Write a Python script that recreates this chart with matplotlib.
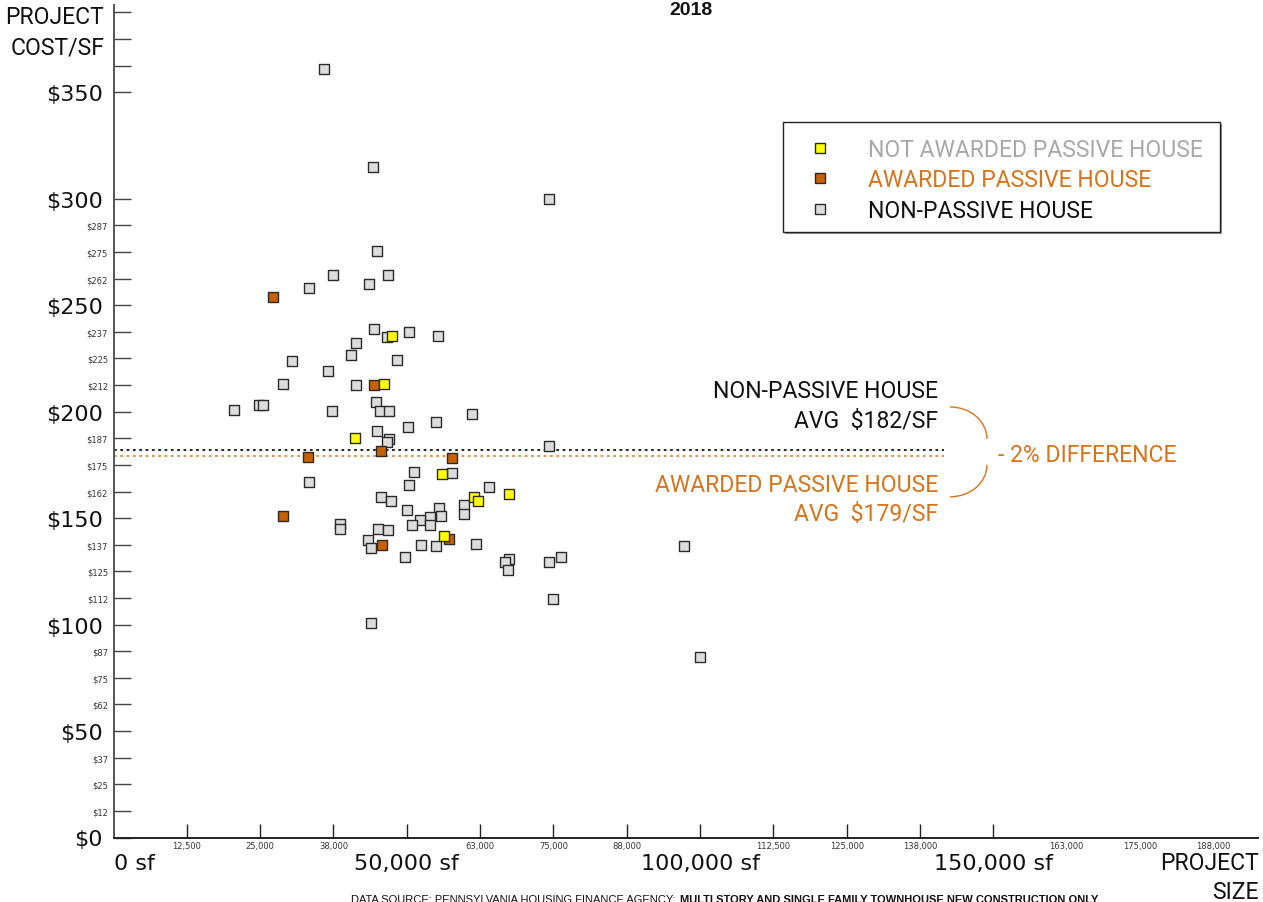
import matplotlib
matplotlib.use('Agg')
import matplotlib.pyplot as plt
from matplotlib import font_manager as fm
from matplotlib.patches import Arc, Rectangle
from matplotlib.lines import Line2D

# ---------------- data ----------------
not_awarded_size = [47430, 46170, 41230, 55960, 61420, 62060, 67380, 56390]
not_awarded_cost = [235.6, 213.1, 187.8, 170.7, 159.7, 158.0, 161.3, 141.5]

awarded_size = [27140, 44420, 45610, 33210, 57770, 28850, 45830, 57150]
awarded_cost = [254.0, 212.3, 181.6, 178.9, 178.2, 151.1, 137.3, 140.3]

non_passive_size = [35890, 44300, 74200, 44930, 37430, 46850, 33380, 43620, 44470, 46630,
                    50380, 55330, 41400, 40490, 48390, 30490, 36620, 28850, 41350, 44760,
                    20490, 24760, 25540, 37310, 45350, 47030, 61130, 55040, 50250, 44960,
                    46890, 46550, 74200, 51290, 57770, 33380, 50430, 64020, 45560, 47370,
                    59810, 59810, 50040, 55550, 55790, 54020, 52260, 53960, 50900, 38620,
                    38620, 45100, 46850, 43390, 43960, 52430, 55040, 61860, 49750, 67480,
                    66800, 67310, 74170, 76250, 74990, 43960, 97320, 100000]
non_passive_cost = [361.1, 315.0, 300.0, 275.6, 264.1, 264.3, 258.0, 260.0, 238.9, 235.0,
                    237.5, 235.6, 232.2, 226.6, 224.2, 224.0, 219.0, 213.2, 212.6, 204.5,
                    200.7, 203.1, 202.9, 200.5, 200.5, 200.5, 198.7, 195.1, 192.6, 191.1,
                    187.2, 185.8, 184.1, 171.7, 171.3, 167.0, 165.5, 164.4, 159.7, 158.0,
                    156.1, 151.9, 153.7, 154.8, 151.1, 150.4, 149.0, 146.8, 146.8, 147.3,
                    145.0, 145.0, 144.3, 139.5, 136.0, 137.4, 137.0, 137.8, 131.7, 130.8,
                    129.3, 125.8, 129.3, 131.7, 112.1, 100.6, 137.0, 84.8]

avg_non_passive = 182
avg_awarded = 179

legend_labels = ["NOT AWARDED PASSIVE HOUSE", "AWARDED PASSIVE HOUSE", "NON-PASSIVE HOUSE"]

y_major = [0, 50, 100, 150, 200, 250, 300, 350, 362.5, 375, 387.5]
y_major_labels = ["$0", "$50", "$100", "$150", "$200", "$250", "$300", "$350", "", "", ""]
y_minor = [12.5, 25, 37.5, 62.5, 75, 87.5, 112.5, 125, 137.5, 162.5, 175, 187.5,
           212.5, 225, 237.5, 262.5, 275, 287.5]
y_minor_labels = ["$12", "$25", "$37", "$62", "$75", "$87", "$112", "$125", "$137", "$162",
                  "$175", "$187", "$212", "$225", "$237", "$262", "$275", "$287"]

x_marks = [12500, 25000, 37500, 50000, 62500, 75000, 87500, 100000, 112500, 125000,
           137500, 150000]
x_small_pos = [12500, 25000, 37500, 62500, 75000, 87500, 112500, 125000, 137500,
               162500, 175000, 187500]
x_small_labels = ["12,500", "25,000", "38,000", "63,000", "75,000", "88,000", "112,500",
                  "125,000", "138,000", "163,000", "175,000", "188,000"]
x_big_pos = [50000, 100000, 150000]
x_big_labels = ["50,000 sf", "100,000 sf", "150,000 sf"]

# ---------------- style ----------------
W, H = 1263, 903
names = {f.name for f in fm.fontManager.ttflist}
NARROW = 'Liberation Sans Narrow' if 'Liberation Sans Narrow' in names else 'Roboto'
TS = 18 if NARROW == 'Liberation Sans Narrow' else 16.6
ARIAL = 'Liberation Sans' if 'Liberation Sans' in names else 'DejaVu Sans'
NUM = 'DejaVu Sans'

YELLOW = '#ffff00'
ORANGE = '#c86000'
ORANGE_TXT = '#d6741c'
GRAY = '#dcdcdc'
EDGE = '#2a2a2a'

fig = plt.figure(figsize=(W / 100, H / 100), dpi=100)
AX_L, AX_R, AX_T, AX_B = 113.5, 1258, 6, 838.5
ax = fig.add_axes([AX_L / W, 1 - AX_B / H, (AX_R - AX_L) / W, (AX_B - AX_T) / H])
ax.set_xlim(0, 195100)
ax.set_ylim(0, 391)


def fx(px):
    return px / W


def fy(py):
    return 1 - py / H


for s in ['top', 'right']:
    ax.spines[s].set_visible(False)
ax.spines['left'].set_color('#555555')
ax.spines['left'].set_linewidth(1.4)
ax.spines['bottom'].set_color('#222222')
ax.spines['bottom'].set_linewidth(1.4)

# y ticks
ax.set_yticks(y_major, y_major_labels)
ax.set_yticks(y_minor, y_minor_labels, minor=True)
ax.tick_params(axis='y', which='major', direction='in', length=12.2, width=1.0,
               color='#444444', pad=7.5, labelsize=16, labelcolor='#111111')
ax.tick_params(axis='y', which='minor', direction='in', length=12.2, width=1.0,
               color='#444444', pad=4, labelsize=6, labelcolor='#333333')
for lab in ax.get_yticklabels(which='both'):
    lab.set_family(NUM)

# x ticks (marks only)
ax.set_xticks(x_marks, [''] * len(x_marks))
ax.tick_params(axis='x', which='major', direction='in', length=10, width=1.0,
               color='#222222')

xt = ax.get_xaxis_transform()


def ay(py):
    return (AX_B - py) / (AX_B - AX_T)


for p, l in zip(x_small_pos, x_small_labels):
    ax.text(p, ay(842), l, transform=xt, ha='center', va='top', fontsize=6,
            color='#333333', family=NUM, clip_on=False)
for p, l in zip(x_big_pos, x_big_labels):
    ax.text(p, ay(870), l, transform=xt, ha='center', va='baseline', fontsize=16,
            color='#111111', family=NUM, clip_on=False)
ax.text(0, ay(870), "0 sf", transform=xt, ha='left', va='baseline', fontsize=16,
        color='#111111', family=NUM, clip_on=False)

# axis titles
fig.text(fx(104), fy(24), "PROJECT", ha='right', va='baseline', fontsize=TS,
         family=NARROW, color='#111111')
fig.text(fx(104), fy(54), "COST/SF", ha='right', va='baseline', fontsize=TS,
         family=NARROW, color='#111111')
fig.text(fx(1259), fy(870), "PROJECT", ha='right', va='baseline', fontsize=TS,
         family=NARROW, color='#111111')
fig.text(fx(1259), fy(899), "SIZE", ha='right', va='baseline', fontsize=TS,
         family=NARROW, color='#111111')

# title
fig.text(fx(691), fy(15), "2018", ha='center', va='baseline', fontsize=14,
         weight='bold', family=ARIAL, color='#111111')

# source
fig.text(fx(679), fy(895), "DATA SOURCE: PENNSYLVANIA HOUSING FINANCE AGENCY; ",
         ha='right', va='top', fontsize=8, family=ARIAL, color='#111111')
fig.text(fx(680), fy(895), "MULTI STORY AND SINGLE FAMILY TOWNHOUSE NEW CONSTRUCTION ONLY",
         ha='left', va='top', fontsize=8, family=ARIAL, weight='bold', color='#111111')

# average lines
ax.plot([0, 141500], [avg_non_passive, avg_non_passive], color='#111111', lw=1.3,
        linestyle=(0, (1.5, 2.0)), zorder=2)
ax.plot([0, 141500], [avg_awarded, avg_awarded], color='#e08a3c', lw=1.3,
        linestyle=(0, (1.5, 2.0)), zorder=2)

# points
ms = 58
ax.scatter(non_passive_size, non_passive_cost, marker='s', s=ms, facecolor=GRAY,
           edgecolor=EDGE, linewidth=1.0, zorder=3, clip_on=False)
ax.scatter(awarded_size, awarded_cost, marker='s', s=ms, facecolor=ORANGE,
           edgecolor=EDGE, linewidth=1.0, zorder=4, clip_on=False)
ax.scatter(not_awarded_size, not_awarded_cost, marker='s', s=ms, facecolor=YELLOW,
           edgecolor=EDGE, linewidth=1.0, zorder=5, clip_on=False)

# annotation text
fig.text(fx(938), fy(398), "NON-PASSIVE HOUSE", ha='right', va='baseline',
         fontsize=TS, family=NARROW, color='#111111')
fig.text(fx(938), fy(428), f"AVG  ${avg_non_passive}/SF", ha='right', va='baseline',
         fontsize=TS, family=NARROW, color='#111111')
fig.text(fx(938), fy(492), "AWARDED PASSIVE HOUSE", ha='right', va='baseline',
         fontsize=TS, family=NARROW, color=ORANGE_TXT)
fig.text(fx(938), fy(521), f"AVG  ${avg_awarded}/SF", ha='right', va='baseline',
         fontsize=TS, family=NARROW, color=ORANGE_TXT)
diff = round((avg_awarded - avg_non_passive) / avg_non_passive * 100)
fig.text(fx(998), fy(462), f"- {abs(diff)}% DIFFERENCE", ha='left', va='baseline',
         fontsize=TS, family=NARROW, color=ORANGE_TXT)

# brace arcs (data coords)
ax.add_patch(Arc((142600, 187.2), 12600, 30, theta1=0, theta2=90, color=ORANGE_TXT,
                 lw=1.0, clip_on=False))
ax.add_patch(Arc((142600, 175.0), 12600, 30, theta1=270, theta2=360, color=ORANGE_TXT,
                 lw=1.0, clip_on=False))

# legend (manual)
fig.add_artist(Rectangle((fx(785), fy(235)), (1220 - 783) / W, (233 - 123) / H,
                         transform=fig.transFigure, facecolor='#999999', edgecolor='none',
                         zorder=9))
fig.add_artist(Rectangle((fx(783), fy(233)), (1220 - 783) / W, (233 - 123) / H,
                         transform=fig.transFigure, facecolor='white', edgecolor='#222222',
                         lw=1.0, zorder=10))
leg_faces = [YELLOW, ORANGE, GRAY]
leg_text_colors = ['#a8a8a8', ORANGE_TXT, '#111111']
leg_rows = [149, 179, 210]
for lab, fc, tc, ry in zip(legend_labels, leg_faces, leg_text_colors, leg_rows):
    fig.add_artist(Line2D([fx(820)], [fy(ry)], marker='s', markersize=7,
                          markerfacecolor=fc, markeredgecolor=EDGE, markeredgewidth=1.0,
                          linestyle='none', transform=fig.transFigure, zorder=11))
    fig.text(fx(868), fy(ry + 8), lab, ha='left', va='baseline', fontsize=TS,
             family=NARROW, color=tc, zorder=11)

fig.savefig('out.png', dpi=100)
